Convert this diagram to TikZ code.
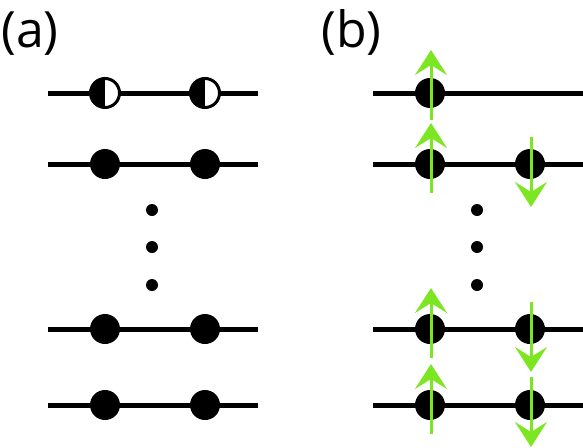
\documentclass[tikz,border=0pt]{standalone}
\usepackage{fontspec}
\setmainfont{Open Sans}
\usetikzlibrary{arrows.meta}
\definecolor{spingreen}{RGB}{125,230,35}
\tikzset{
  chain/.style={black, line width=5pt},
  site/.style={circle, fill=black, inner sep=0pt, minimum size=30pt},
  halfsite/.style={circle, draw=black, line width=3pt, fill=white, inner sep=0pt, minimum size=29pt,
    path picture={\fill[black] (path picture bounding box.north) rectangle (path picture bounding box.south west);}},
  vdot/.style={circle, fill=black, inner sep=0pt, minimum size=12pt},
  spin/.style={spingreen, line width=3pt, -{Stealth[length=25pt,width=32pt,inset=10pt]}},
  panel/.style={anchor=base west, inner sep=0pt, font=\fontsize{50}{50}\selectfont}
}
\begin{document}
\begin{tikzpicture}[x=1pt, y=-1pt]
\useasboundingbox (0,0) rectangle (583,447);
% labels
\node[panel] (la) at (1,47) {(a)};
\node[panel] (lb) at (321,47) {(b)};
% panel (a): chains
\coordinate (a1l) at (48,93);  \coordinate (a1r) at (258,93);
\coordinate (a2l) at (48,164); \coordinate (a2r) at (258,164);
\coordinate (a3l) at (48,329); \coordinate (a3r) at (258,329);
\coordinate (a4l) at (48,405); \coordinate (a4r) at (258,405);
\draw[chain] (a1l) -- (a1r);
\draw[chain] (a2l) -- (a2r);
\draw[chain] (a3l) -- (a3r);
\draw[chain] (a4l) -- (a4r);
\node[halfsite] (a11) at (105,93) {};
\node[halfsite] (a12) at (205,93) {};
\node[site] (a21) at (105,164) {};
\node[site] (a22) at (205,164) {};
\node[site] (a31) at (105,329) {};
\node[site] (a32) at (205,329) {};
\node[site] (a41) at (105,405) {};
\node[site] (a42) at (205,405) {};
\node[vdot] (ad1) at (152,210) {};
\node[vdot] (ad2) at (152,247) {};
\node[vdot] (ad3) at (152,285) {};
% panel (b): chains
\coordinate (b1l) at (373,93);  \coordinate (b1r) at (583,93);
\coordinate (b2l) at (373,164); \coordinate (b2r) at (583,164);
\coordinate (b3l) at (373,329); \coordinate (b3r) at (583,329);
\coordinate (b4l) at (373,405); \coordinate (b4r) at (583,405);
\draw[chain] (b1l) -- (b1r);
\draw[chain] (b2l) -- (b2r);
\draw[chain] (b3l) -- (b3r);
\draw[chain] (b4l) -- (b4r);
\node[site] (b11) at (430,93) {};
\node[site] (b21) at (430,164) {};
\node[site] (b22) at (530,164) {};
\node[site] (b31) at (430,329) {};
\node[site] (b32) at (530,329) {};
\node[site] (b41) at (430,405) {};
\node[site] (b42) at (530,405) {};
\node[vdot] (bd1) at (477,210) {};
\node[vdot] (bd2) at (477,247) {};
\node[vdot] (bd3) at (477,285) {};
% spins
\draw[spin] ([xshift=1pt,yshift=-27pt]b11.center) -- ++(0,-70);
\draw[spin] ([xshift=1pt,yshift=-29pt]b21.center) -- ++(0,-70);
\draw[spin] ([xshift=1pt,yshift=27pt]b22.center) -- ++(0,70);
\draw[spin] ([xshift=1pt,yshift=-29pt]b31.center) -- ++(0,-70);
\draw[spin] ([xshift=1pt,yshift=27pt]b32.center) -- ++(0,70);
\draw[spin] ([xshift=1pt,yshift=-29pt]b41.center) -- ++(0,-70);
\draw[spin] ([xshift=1pt,yshift=28pt]b42.center) -- ++(0,70);
\end{tikzpicture}
\end{document}
